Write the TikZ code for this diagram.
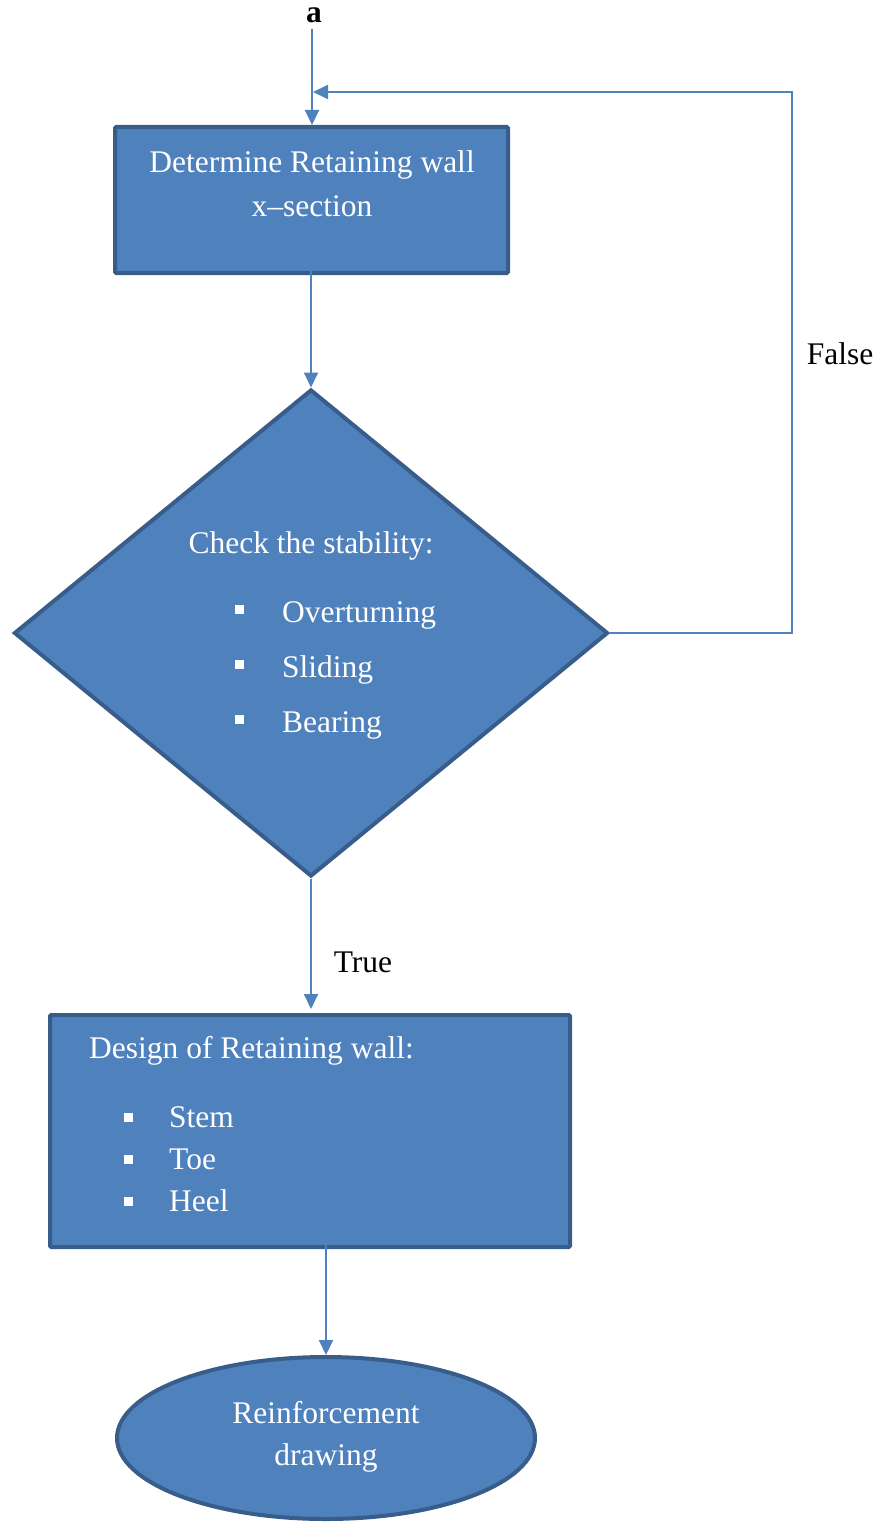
\documentclass[tikz,border=0pt]{standalone}
\usepackage{fontspec}
\setmainfont{Liberation Serif}
\usetikzlibrary{shapes.geometric,arrows.meta,calc}
\definecolor{boxfill}{HTML}{4F81BD}
\definecolor{boxline}{HTML}{385D8A}
\definecolor{linecol}{HTML}{4F81BD}
\newcommand\flowsz{\fontsize{31.5}{38}\selectfont}
\tikzset{
  shapeline/.style={draw=boxline, fill=boxfill, line width=4pt, inner sep=0pt},
  stepbox/.style={shapeline, rectangle, rounded corners=1.2pt},
  decision/.style={shapeline, diamond},
  terminal/.style={shapeline, ellipse},
  conn/.style={draw=linecol, line width=2pt},
  arrowconn/.style={conn, -{Triangle[length=15pt,width=14pt]}},
  intext/.style={text=white, font=\flowsz, anchor=base, inner sep=0pt},
  itemtext/.style={intext, anchor=base west},
  outtext/.style={text=black, font=\flowsz, anchor=base, inner sep=0pt},
  bulletsq/.style={fill=white, rectangle, minimum size=9pt, inner sep=0pt}
}
\begin{document}
\begin{tikzpicture}[x=1pt,y=-1pt]
\useasboundingbox (0,0) rectangle (878,1522);

% shapes
\node[stepbox, minimum width=393pt, minimum height=146pt] (xsec) at (311.5,200) {};
\node[decision, minimum width=594pt, minimum height=487pt] (dia) at (311,633) {};
\node[stepbox, minimum width=520pt, minimum height=232pt] (design) at (310,1131) {};
\node[terminal, minimum width=418pt, minimum height=162pt] (draw) at (326,1438) {};

% texts inside the shapes
\node[intext] (xsecA) at (312,173) {Determine Retaining wall};
\node[intext] (xsecB) at (312,217) {x–section};

\node[intext] (chk) at (311,553) {Check the stability:};
\node[bulletsq] (bA) at (239.5,609.5) {};
\node[itemtext] (iA) at (282,622) {Overturning};
\node[bulletsq] (bB) at (239.5,664.5) {};
\node[itemtext] (iB) at (282,677) {Sliding};
\node[bulletsq] (bC) at (239.5,719.5) {};
\node[itemtext] (iC) at (282,732) {Bearing};

\node[itemtext] (des) at (89,1058) {Design of Retaining wall:};
\node[bulletsq] (bD) at (128,1117) {};
\node[itemtext] (iD) at (169,1127) {Stem};
\node[bulletsq] (bE) at (128,1159) {};
\node[itemtext] (iE) at (169,1169) {Toe};
\node[bulletsq] (bF) at (128,1201) {};
\node[itemtext] (iF) at (169,1211) {Heel};

\node[intext] (rfA) at (326,1423) {Reinforcement};
\node[intext] (rfB) at (326,1465) {drawing};

% labels outside
\node[outtext, font=\flowsz\bfseries] (entry) at (314,23) {a};
\node[outtext] (lfalse) at (840,364) {False};
\node[outtext] (ltrue) at (363,972) {True};

% connectors
\coordinate (start) at (312,29);
\coordinate (loopturn) at (792,92);
\coordinate (merge) at (313,92);
\draw[arrowconn] (start) -- (start |- xsec.north);
\draw[arrowconn] ([yshift=18pt]xsec.south -| dia.north) -- (dia.north);
\draw[arrowconn] (dia.east) -| (loopturn) -- (merge);
\draw[arrowconn, shorten >=4pt] (dia.south) -- (dia.south |- design.north);
\draw[arrowconn] ([yshift=12pt]design.south -| draw.north) -- (draw.north);
\end{tikzpicture}
\end{document}
